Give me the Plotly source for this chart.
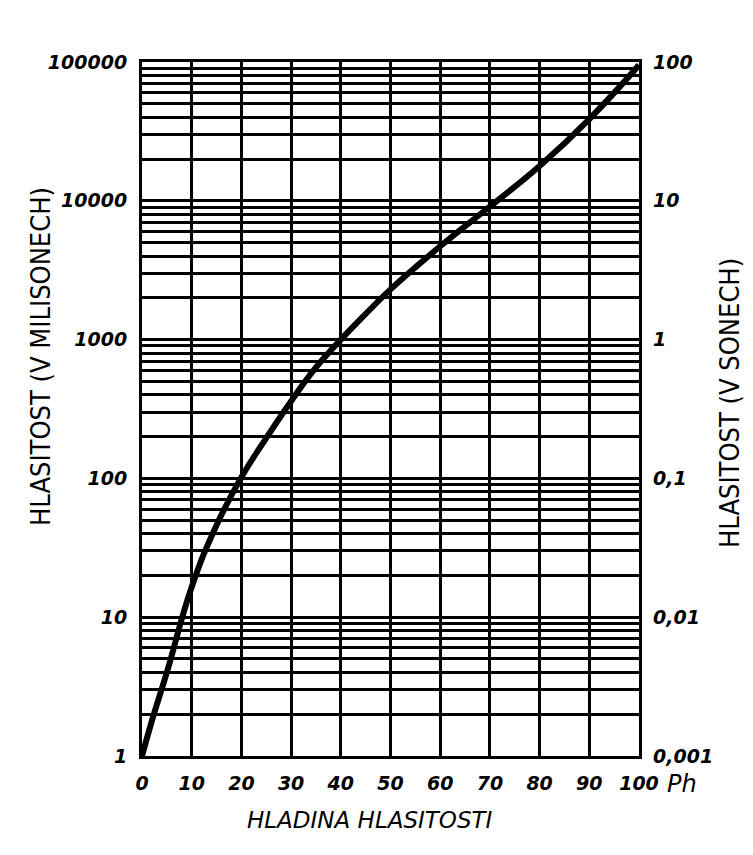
import plotly.graph_objects as go

# Loudness level (phon) vs loudness (millisones)
phons = [0, 2, 5, 10, 15, 20, 25, 30, 35, 40, 45, 50, 60, 70, 80, 90, 100]
millisones = [1, 1.8, 4.0, 16.5, 46, 102, 195, 360, 630, 1000, 1530, 2300, 4700, 9100, 17800, 38800, 95000]

x_ticks = [0, 10, 20, 30, 40, 50, 60, 70, 80, 90, 100]
y_left_ticks = [1, 10, 100, 1000, 10000, 100000]
y_left_text = ["1", "10", "100", "1000", "10000", "100000"]
y_right_ticks = [0.001, 0.01, 0.1, 1, 10, 100]
y_right_text = ["0,001", "0,01", "0,1", "1", "10", "100"]

sones = [v / 1000 for v in millisones]

tick_font = dict(family="DejaVu Sans", size=19, color="black", style="italic", weight="bold")

fig = go.Figure()
fig.add_trace(go.Scatter(x=phons, y=millisones, mode="lines",
                         line=dict(color="black", width=6, shape="spline", smoothing=1.3),
                         showlegend=False, hoverinfo="skip"))
fig.add_trace(go.Scatter(x=phons, y=sones, mode="lines", yaxis="y2",
                         line=dict(color="rgba(0,0,0,0)", width=0),
                         showlegend=False, hoverinfo="skip"))

L, R, T, B = 142, 114, 62, 99
W, H = 753, 855
pw = W - L - R
ph = H - T - B

fig.update_layout(
    width=W, height=H,
    margin=dict(l=L, r=R, t=T, b=B),
    paper_bgcolor="white", plot_bgcolor="white",
    xaxis=dict(range=[0, 100], tickvals=x_ticks, ticktext=[str(t) for t in x_ticks],
               showgrid=True, gridcolor="black", gridwidth=3, zeroline=False,
               showline=True, linecolor="black", linewidth=3, mirror=True,
               ticks="", tickfont=tick_font, ticklabelstandoff=8),
    yaxis=dict(type="log", range=[0, 5], tickvals=y_left_ticks, ticktext=y_left_text,
               showgrid=True, gridcolor="black", gridwidth=3, zeroline=False,
               showline=True, linecolor="black", linewidth=3, mirror=True,
               ticks="", tickfont=tick_font, ticklabelstandoff=8,
               minor=dict(showgrid=True, gridcolor="black", gridwidth=2.5, dtick="D1")),
    yaxis2=dict(type="log", range=[-3, 2], overlaying="y", side="right",
                tickvals=y_right_ticks, ticktext=y_right_text,
                showgrid=False, zeroline=False, showline=False, ticks="",
                tickfont=tick_font, ticklabelstandoff=13),
    annotations=[
        dict(text="HLASITOST (V MILISONECH)", textangle=-90, xref="paper", yref="paper",
             x=(40 - L) / pw, y=(H - B - 357) / ph, showarrow=False,
             font=dict(family="DejaVu Sans Condensed", size=27, color="black"),
             xanchor="center", yanchor="middle"),
        dict(text="HLASITOST (V SONECH)", textangle=-90, xref="paper", yref="paper",
             x=(729 - L) / pw, y=(H - B - 403) / ph, showarrow=False,
             font=dict(family="DejaVu Sans Condensed", size=27, color="black"),
             xanchor="center", yanchor="middle"),
        dict(text="HLADINA HLASITOSTI", xref="paper", yref="paper",
             x=(370 - L) / pw, y=(H - B - 820) / ph, showarrow=False,
             font=dict(family="DejaVu Sans", size=23, color="black", style="italic"),
             xanchor="center", yanchor="middle"),
        dict(text="Ph", xref="paper", yref="paper",
             x=(682 - L) / pw, y=(H - B - 784) / ph, showarrow=False,
             font=dict(family="DejaVu Sans", size=24, color="black", style="italic"),
             xanchor="center", yanchor="middle"),
    ],
)

fig.write_html("out.html")
